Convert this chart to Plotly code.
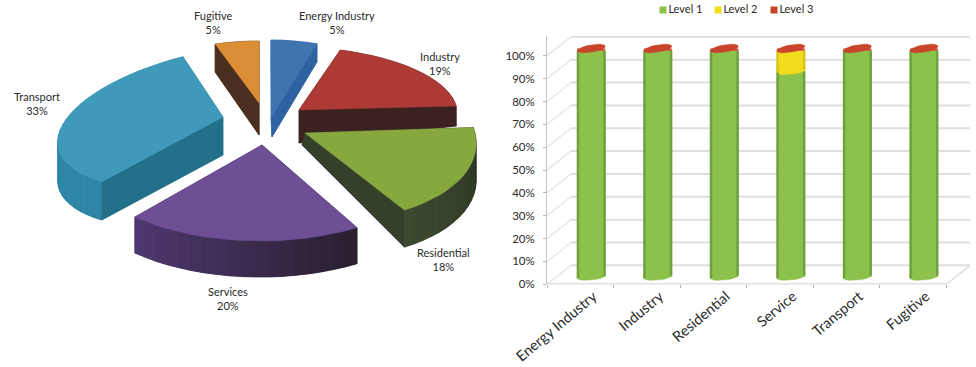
import math
import plotly.graph_objects as go

# ---------- data ----------
pie_labels = ["Energy Industry", "Industry", "Residential", "Services", "Transport", "Fugitive"]
pie_values = [5, 19, 18, 20, 33, 5]

bar_categories = ["Energy Industry", "Industry", "Residential", "Service", "Transport", "Fugitive"]
level_names = ["Level 1", "Level 2", "Level 3"]
level_1 = [99, 99, 99, 90, 99, 99]
level_2 = [0, 0, 0, 9, 0, 0]
level_3 = [1, 1, 1, 1, 1, 1]
y_ticks = [0, 10, 20, 30, 40, 50, 60, 70, 80, 90, 100]

# ---------- styles (projection of each slice, px) ----------
# apex x, apex y, a, k, b, m, rim depth, apex dx, apex depth
proj = {
    "Energy Industry": (271, 118, 149, 0, 78, 0, 18, 1, 19),
    "Industry": (299, 110, 158, 8, 63, 0, 20, 0, 33),
    "Residential": (305, 133, 170, 20, 88, 0, 37, -3, 12),
    "Services": (262, 145, 190, 4, 96, -3, 36, 0, 0),
    "Transport": (223, 117, 165, -11.5, 70, -20.5, 38, 0, 38),
    "Fugitive": (259, 103, 142, 0, 62, 0, 28, 0, 32),
}
top_col = {"Energy Industry": "#3f74b0", "Industry": "#ad3a35", "Residential": "#86a83f",
           "Services": "#6e4f96", "Transport": "#3f9aba", "Fugitive": "#dc8e36"}
side_col = {"Energy Industry": "#2f62a0", "Industry": "#3b2120", "Residential": "#35402b",
            "Services": "#33263f", "Transport": "#23708a", "Fugitive": "#4a2e1f"}
rim_col = {"Energy Industry": ("#2f62a0", "#2f62a0"), "Industry": ("#3b2120", "#3b2120"),
           "Residential": ("#2c3324", "#3c4a30"), "Services": ("#2a2030", "#4e3870"),
           "Transport": ("#2f86a6", "#2f86a6"), "Fugitive": ("#4a2e1f", "#4a2e1f")}
draw_order = ["Fugitive", "Energy Industry", "Industry", "Residential", "Transport", "Services"]
label_pos = {"Energy Industry": (337, 22), "Industry": (440, 63), "Residential": (443, 259),
             "Services": (228, 298), "Transport": (37, 103), "Fugitive": (213, 22)}

TXT = "#2b2b2b"
FONT = "Lato"

fig = go.Figure()


def poly(xs, ys, color):
    fig.add_trace(go.Scatter(x=xs, y=ys, mode="lines", fill="toself", fillcolor=color,
                             line=dict(color=color, width=0.5), hoverinfo="skip",
                             showlegend=False, xaxis="x", yaxis="y"))


def mix(c1, c2, t):
    a = [int(c1[i:i + 2], 16) for i in (1, 3, 5)]
    b = [int(c2[i:i + 2], 16) for i in (1, 3, 5)]
    return "#%02x%02x%02x" % tuple(round(a[i] + (b[i] - a[i]) * t) for i in range(3))


# ---------- exploded 3-D pie, angles derived from the values ----------
total = sum(pie_values)
ranges = {}
start = 0.0
for name, val in zip(pie_labels, pie_values):
    ranges[name] = (start, start + 360.0 * val / total)
    start += 360.0 * val / total

for name in draw_order:
    ax, ay, a, k, b, m, dr, adx, ad = proj[name]
    t0, t1 = ranges[name]
    n = max(int((t1 - t0) / 4), 4)
    thetas = [math.radians(t0 + (t1 - t0) * i / n) for i in range(n + 1)]
    rx = [ax + a * math.sin(t) - k * math.cos(t) for t in thetas]
    ry = [ay - b * math.cos(t) + m * math.sin(t) for t in thetas]
    bx, by = ax + adx, ay + ad
    # underside and the two straight faces
    poly([bx] + rx + [bx], [by] + [y + dr for y in ry] + [by], side_col[name])
    poly([ax, rx[0], rx[0], bx, ax], [ay, ry[0], ry[0] + dr, by, ay], side_col[name])
    poly([ax, rx[-1], rx[-1], bx, ax], [ay, ry[-1], ry[-1] + dr, by, ay], side_col[name])
    # curved rim, shaded
    for i in range(n):
        col = mix(rim_col[name][0], rim_col[name][1], i / max(n - 1, 1))
        poly([rx[i], rx[i + 1], rx[i + 1], rx[i], rx[i]],
             [ry[i], ry[i + 1], ry[i + 1] + dr, ry[i] + dr, ry[i]], col)
    # top face
    poly([ax] + rx + [ax], [ay] + ry + [ay], top_col[name])

for name, val in zip(pie_labels, pie_values):
    lx, ly = label_pos[name]
    fig.add_annotation(x=lx, y=ly, xref="x", yref="y", text=f"{name}<br>{val}%", showarrow=False,
                       font=dict(family=FONT, size=11, color=TXT), align="center")

# ---------- legend of the right chart ----------
level_col = ["#8cc14c", "#f2dc1e", "#c8452a"]
level_edge = ["#6fa23f", "#d8c41a", "#a83a22"]
legend_x = [663, 718, 774]
for nm, col, lx in zip(level_names, level_col, legend_x):
    fig.add_trace(go.Scatter(x=[lx], y=[10], mode="markers+text", text=[nm], textposition="middle right",
                             textfont=dict(family=FONT, size=11, color=TXT),
                             marker=dict(symbol="square", size=7, color=col), hoverinfo="skip",
                             showlegend=False, xaxis="x", yaxis="y"))

# ---------- cylinder chart ----------
BASE = 3.2        # raised floor of the 3-D plot
SHIFT = 0.165     # depth shift of the columns
WIDTH = 0.42
xpos = [i + SHIFT for i in range(len(bar_categories))]
bottoms = [BASE] * len(xpos)
for vals, nm, col in zip([level_1, level_2, level_3], level_names, level_col):
    fig.add_trace(go.Bar(x=xpos, y=vals, base=bottoms, width=WIDTH, name=nm, marker=dict(color=col, line=dict(width=0)),
                         showlegend=False, xaxis="x2", yaxis="y2", hoverinfo="skip"))
    bottoms = [p + v for p, v in zip(bottoms, vals)]


def ellipse(cx, cy, color, rx=WIDTH / 2, ry=1.3, tilt=0.6, lower_only=False):
    xs, ys = [], []
    for d in range(0, 181 if lower_only else 361, 15):
        t = math.radians(d)
        xs.append(cx + rx * math.cos(t))
        ys.append(cy - ry * math.sin(t) + tilt * math.cos(t))
    if lower_only:
        # closes the half ellipse upward into the column above it
        xs += [cx - rx, cx + rx, xs[0]]
        ys += [cy + 2.5, cy + 2.5, ys[0]]
    fig.add_trace(go.Scatter(x=xs, y=ys, mode="lines", fill="toself", fillcolor=color, line=dict(color=color, width=0.5),
                             hoverinfo="skip", showlegend=False, xaxis="x2", yaxis="y2", cliponaxis=False))


for i, x in enumerate(xpos):
    ellipse(x, BASE, level_col[0], lower_only=True)
    if level_2[i] > 0:
        ellipse(x, BASE + level_1[i], level_col[1], lower_only=True)

# column edges
stack = [BASE] * len(xpos)
for vals, edge in zip([level_1, level_2], level_edge):
    ex, ey = [], []
    for i, v in enumerate(vals):
        if v > 0:
            for side in (-1, 1):
                xe = xpos[i] + side * (WIDTH / 2 - 0.01)
                ex += [xe, xe, None]
                ey += [stack[i] + side * 0.6, stack[i] + v, None]
    fig.add_trace(go.Scatter(x=ex, y=ey, mode="lines", line=dict(color=edge, width=2.5), hoverinfo="skip",
                             showlegend=False, xaxis="x2", yaxis="y2"))
    stack = [s + v for s, v in zip(stack, vals)]

for i, x in enumerate(xpos):
    ellipse(x, BASE + level_1[i] + level_2[i] + level_3[i], level_col[2], ry=1.6, tilt=1.0)

# back wall and floor lines, from the axis ticks
n_cat = len(bar_categories)
DX, DY = 0.36, 8.3
XMIN, XMAX = -0.5, n_cat - 0.5 + DX
GRID = "#dedede"
shapes = []
for v in y_ticks:
    shapes.append(dict(type="line", xref="x2", yref="y2", x0=XMIN, x1=XMIN + DX, y0=v, y1=v + DY,
                       line=dict(color="#e8e8e8", width=1.5), layer="below"))
    shapes.append(dict(type="line", xref="x2", yref="y2", x0=XMIN + DX, x1=XMAX, y0=v + DY, y1=v + DY,
                       line=dict(color=GRID, width=2), layer="below"))
shapes.append(dict(type="line", xref="x2", yref="y2", x0=n_cat - 0.5, x1=XMAX, y0=0, y1=DY,
                   line=dict(color="#e0e0e0", width=1.5), layer="below"))

W, H = 976, 367
PX_L, PX_R, PX_B, PX_T = 547, 546.6 + (n_cat + DX) * 66.6, 284.3, 36
fig.update_layout(
    width=W, height=H, margin=dict(l=0, r=0, t=0, b=0, autoexpand=False), paper_bgcolor="white", plot_bgcolor="rgba(0,0,0,0)",
    showlegend=False, barmode="overlay", shapes=shapes, font=dict(family=FONT, color=TXT),
    xaxis=dict(domain=[0, 1], range=[0, W], visible=False, fixedrange=True, automargin=False),
    yaxis=dict(domain=[0, 1], range=[H, 0], visible=False, fixedrange=True, automargin=False),
    xaxis2=dict(domain=[PX_L / W, min(PX_R / W, 1)], range=[XMIN, XMAX], anchor="y2", automargin=False,
                tickmode="array", tickvals=[x + 0.03 for x in xpos], ticktext=bar_categories, tickangle=-40,
                tickfont=dict(family=FONT, size=14.5, color=TXT), ticks="", showgrid=False, zeroline=False,
                showline=False,
                minor=dict(tickmode="array", tickvals=[i - 0.5 for i in range(n_cat + 1)], ticks="outside", ticklen=3,
                           tickcolor="#b5b5b5", tickwidth=1, showgrid=False)),
    yaxis2=dict(domain=[1 - PX_B / H, 1 - PX_T / H], range=[0, (PX_B - PX_T) / 2.285], anchor="x2", automargin=False,
                tickmode="array", tickvals=y_ticks, ticktext=[f"{v}%" for v in y_ticks],
                tickfont=dict(family=FONT, size=11.5, color=TXT), ticks="outside", ticklen=3, tickcolor="#b5b5b5",
                ticklabelstandoff=6, showgrid=False, zeroline=False, showline=True, linecolor="#c4c4c4", linewidth=1),
)
fig.add_shape(type="line", xref="x2", yref="y2", x0=XMIN, x1=n_cat - 0.5, y0=0, y1=0,
              line=dict(color="#c4c4c4", width=1.5), layer="below")

fig.write_html("out.html", config={"displayModeBar": False},
               post_script="document.body.style.margin='0';document.body.style.overflow='hidden';")
